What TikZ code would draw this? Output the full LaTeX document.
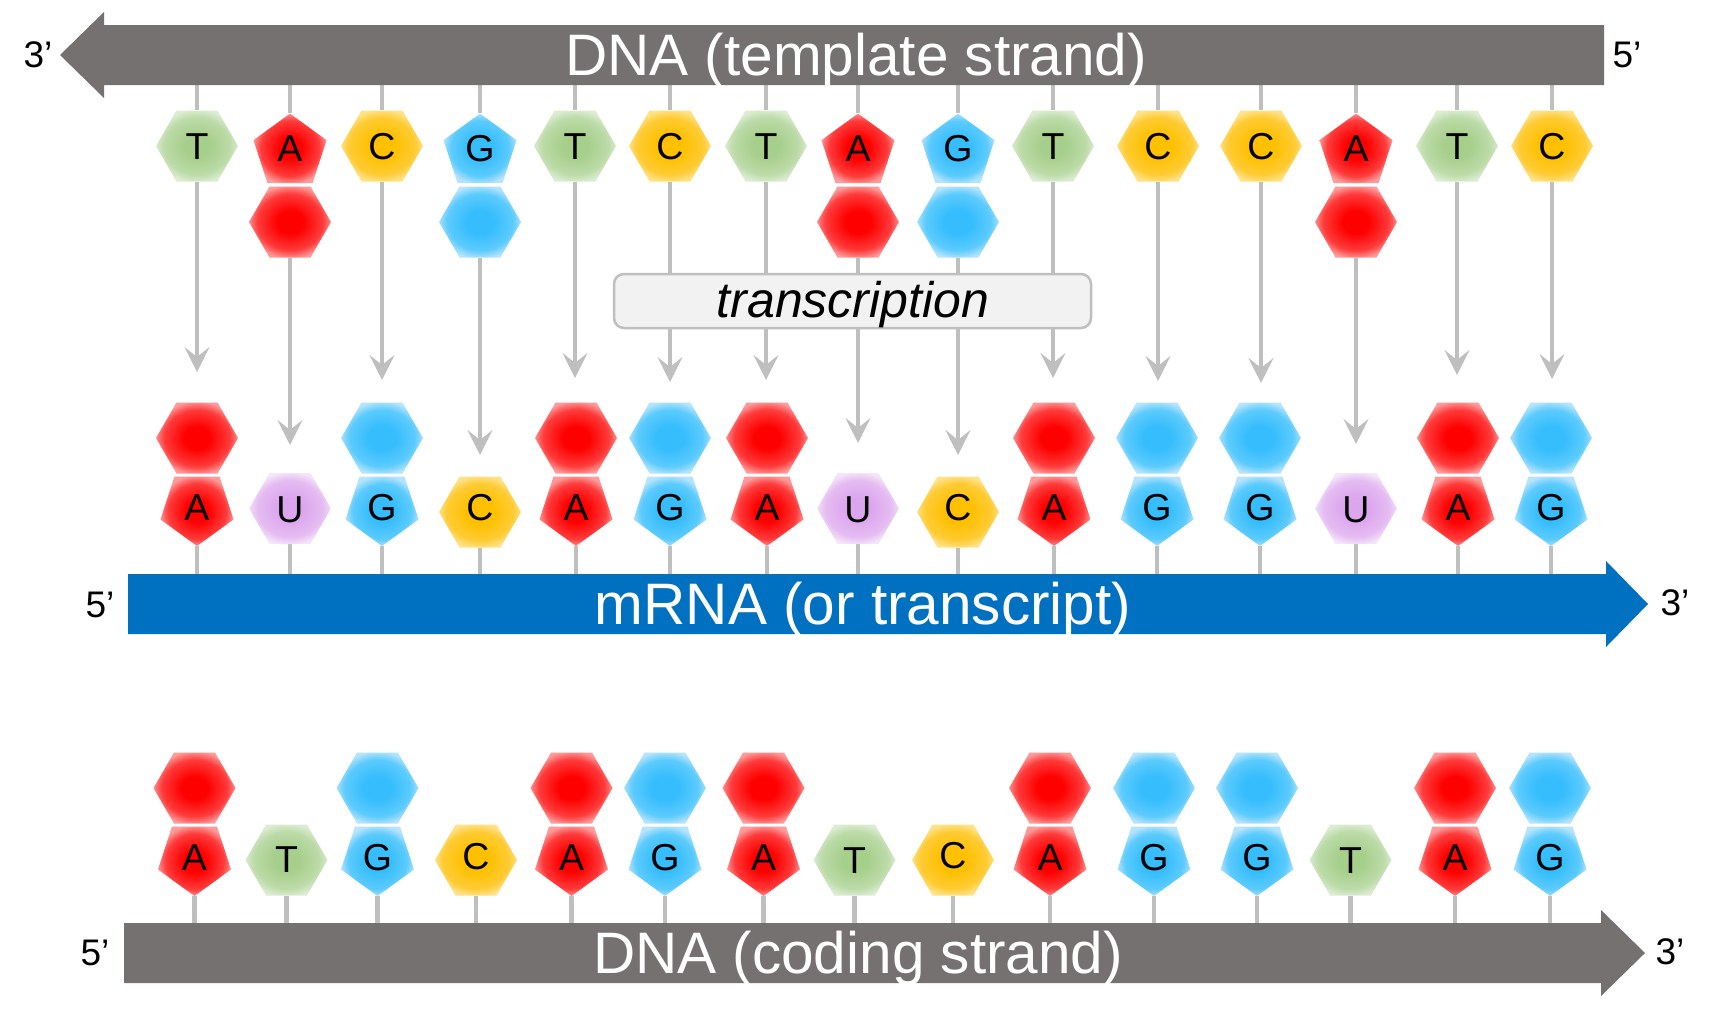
\documentclass[tikz,border=0pt]{standalone}
\usepackage{fontspec}
\setmainfont{Liberation Sans}
\usetikzlibrary{arrows.meta}
\definecolor{dnagray}{HTML}{767171}
\definecolor{rnablue}{HTML}{0070C0}
\definecolor{linkgray}{HTML}{BFBFBF}
\definecolor{boxfill}{HTML}{F2F2F2}
\definecolor{cA}{HTML}{FF0000}\definecolor{mA}{HTML}{FF3B3B}\definecolor{eA}{HTML}{FF9A9A}
\definecolor{cG}{HTML}{35BDFD}\definecolor{mG}{HTML}{5CCBFD}\definecolor{eG}{HTML}{B5E4FC}
\definecolor{cC}{HTML}{FFC000}\definecolor{mC}{HTML}{FFCB33}\definecolor{eC}{HTML}{FFE38C}
\definecolor{cT}{HTML}{A7CF8C}\definecolor{mT}{HTML}{BCDBA8}\definecolor{eT}{HTML}{DDEDD4}
\definecolor{cU}{HTML}{DCA6EE}\definecolor{mU}{HTML}{E5BCF2}\definecolor{eU}{HTML}{F5E6FA}
\pgfdeclareradialshading{shA}{\pgfpoint{0bp}{0bp}}{color(0bp)=(cA); color(8bp)=(cA); color(20bp)=(mA); color(26bp)=(eA); color(50bp)=(eA)}
\pgfdeclareradialshading{shG}{\pgfpoint{0bp}{0bp}}{color(0bp)=(cG); color(8bp)=(cG); color(20bp)=(mG); color(26bp)=(eG); color(50bp)=(eG)}
\pgfdeclareradialshading{shC}{\pgfpoint{0bp}{0bp}}{color(0bp)=(cC); color(8bp)=(cC); color(20bp)=(mC); color(26bp)=(eC); color(50bp)=(eC)}
\pgfdeclareradialshading{shT}{\pgfpoint{0bp}{0bp}}{color(0bp)=(cT); color(8bp)=(cT); color(20bp)=(mT); color(26bp)=(eT); color(50bp)=(eT)}
\pgfdeclareradialshading{shU}{\pgfpoint{0bp}{0bp}}{color(0bp)=(cU); color(8bp)=(cU); color(20bp)=(mU); color(26bp)=(eU); color(50bp)=(eU)}
\pgfdeclarelayer{bg}
\pgfsetlayers{bg,main}
\tikzset{
  basebox/.style={inner sep=0pt, minimum width=82pt, draw=none},
  letter/.style={inner sep=0pt, font=\fontsize{37.5}{40}\selectfont},
  endlabel/.style={inner sep=0pt, font=\fontsize{37}{40}\selectfont},
  bartext/.style={inner sep=0pt, anchor=base, text=white, font=\fontsize{58.5}{60}\selectfont},
  link/.style={draw=linkgray, line width=4.5pt},
  linkarrow/.style={link, -{Stealth[length=25pt,width=25pt,inset=10pt]}},
}
\newcommand\hexpath[3]{\shade[shading=#3] (#1+41,#2) -- (#1+20.5,#2-35.5) -- (#1-20.5,#2-35.5) -- (#1-41,#2) -- (#1-20.5,#2+35.5) -- (#1+20.5,#2+35.5) -- cycle;}
\newcommand\pentup[3]{\shade[shading=#3] (#1,#2-38.4) -- (#1+36.52,#2-11.87) -- (#1+22.57,#2+31.07) -- (#1-22.57,#2+31.07) -- (#1-36.52,#2-11.87) -- cycle;}
\newcommand\pentdown[3]{\shade[shading=#3] (#1,#2+38.4) -- (#1+36.52,#2+11.87) -- (#1+22.57,#2-31.07) -- (#1-22.57,#2-31.07) -- (#1-36.52,#2+11.87) -- cycle;}
% top row: pentagon (point up) over hexagon
\newcommand\TopPair[4]{%
  \pentup{#2}{152}{#3}\hexpath{#2}{222}{#3}%
  \node[basebox, minimum height=143.9pt] (#1) at (#2,185.55) {};%
  \node[letter] (#1-l) at (#2,149) {#4};}
\newcommand\TopSingle[4]{%
  \hexpath{#2}{146}{#3}%
  \node[basebox, minimum height=71pt] (#1) at (#2,146) {};%
  \node[letter] (#1-l) at (#2,146.5) {#4};}
% lower rows: hexagon over pentagon (point down)
\newcommand\LowPair[5]{%
  \hexpath{#2}{#3}{#4}\pentdown{#2}{#3+69.6}{#4}%
  \node[basebox, minimum height=143.5pt] (#1) at (#2,#3+36.25) {};%
  \node[letter] (#1-l) at (#2,#3+69.6) {#5};}
\newcommand\LowSingle[6]{%
  \hexpath{#2}{#3}{#4}%
  \node[basebox, minimum height=71pt] (#1) at (#2,#3) {};%
  \node[letter] (#1-l) at (#2,#6) {#5};}
\begin{document}
\begin{tikzpicture}[x=1pt,y=-1pt]
\useasboundingbox (0,0) rectangle (1712,1020);
\coordinate (tbar) at (0,85);
\coordinate (mbar) at (0,574);
\coordinate (bbar) at (0,923);
% ---- strands ----
\fill[dnagray] (1604,25) -- (104,25) -- (104,12) -- (60,55) -- (104,98) -- (104,85) -- (1604,85) -- cycle;
\fill[rnablue] (128,574) -- (1606,574) -- (1606,561) -- (1648,604) -- (1606,647) -- (1606,634) -- (128,634) -- cycle;
\fill[dnagray] (124,923) -- (1601,923) -- (1601,910) -- (1645,953) -- (1601,996) -- (1601,983) -- (124,983) -- cycle;
\node[bartext] (tmpl) at (856,75.5) {DNA (template strand)};
\node[bartext] (mrna) at (863,624.4) {mRNA (or transcript)};
\node[bartext] (cod) at (858,973.4) {DNA (coding strand)};
\node[endlabel] (l1) at (38,55) {3’};
\node[endlabel] (l2) at (1627,55) {5’};
\node[endlabel] (l3) at (100,605) {5’};
\node[endlabel] (l4) at (1675,603) {3’};
\node[endlabel] (l5) at (95,953) {5’};
\node[endlabel] (l6) at (1670,952) {3’};
% ---- template strand bases ----
\TopSingle{t1}{197}{shT}{T}
\TopPair{t2}{290}{shA}{A}
\TopSingle{t3}{382}{shC}{C}
\TopPair{t4}{480}{shG}{G}
\TopSingle{t5}{575}{shT}{T}
\TopSingle{t6}{670}{shC}{C}
\TopSingle{t7}{766}{shT}{T}
\TopPair{t8}{858}{shA}{A}
\TopPair{t9}{958}{shG}{G}
\TopSingle{t10}{1053}{shT}{T}
\TopSingle{t11}{1158}{shC}{C}
\TopSingle{t12}{1261}{shC}{C}
\TopPair{t13}{1356}{shA}{A}
\TopSingle{t14}{1457}{shT}{T}
\TopSingle{t15}{1552}{shC}{C}
% ---- mRNA bases ----
\LowPair{m1}{197}{438}{shA}{A}
\LowSingle{m2}{290}{508.5}{shU}{U}{510}
\LowPair{m3}{382}{438}{shG}{G}
\LowSingle{m4}{480}{512}{shC}{C}{508}
\LowPair{m5}{576}{438}{shA}{A}
\LowPair{m6}{670}{438}{shG}{G}
\LowPair{m7}{767}{438}{shA}{A}
\LowSingle{m8}{858}{508.5}{shU}{U}{510}
\LowSingle{m9}{958}{512}{shC}{C}{508}
\LowPair{m10}{1054}{438}{shA}{A}
\LowPair{m11}{1157}{438}{shG}{G}
\LowPair{m12}{1260}{438}{shG}{G}
\LowSingle{m13}{1356}{508.5}{shU}{U}{510}
\LowPair{m14}{1458}{438}{shA}{A}
\LowPair{m15}{1551}{438}{shG}{G}
% ---- coding strand bases ----
\LowPair{b1}{194.5}{788}{shA}{A}
\LowSingle{b2}{286.5}{860}{shT}{T}{860}
\LowPair{b3}{377.5}{788}{shG}{G}
\LowSingle{b4}{476}{860}{shC}{C}{857}
\LowPair{b5}{571.5}{788}{shA}{A}
\LowPair{b6}{665}{788}{shG}{G}
\LowPair{b7}{763.5}{788}{shA}{A}
\LowSingle{b8}{854.5}{860}{shT}{T}{861}
\LowSingle{b9}{953}{860}{shC}{C}{856}
\LowPair{b10}{1050}{788}{shA}{A}
\LowPair{b11}{1154}{788}{shG}{G}
\LowPair{b12}{1257}{788}{shG}{G}
\LowSingle{b13}{1350.5}{860}{shT}{T}{861}
\LowPair{b14}{1455}{788}{shA}{A}
\LowPair{b15}{1550}{788}{shG}{G}
% ---- transcription label ----
\node[draw=linkgray, fill=boxfill, line width=2.5pt, rounded corners=10pt, minimum width=477pt, minimum height=54pt, inner sep=0pt] (tbox) at (852.5,301) {};
\node[inner sep=0pt, anchor=base, font=\fontsize{50}{54}\selectfont\itshape] (ttext) at (853,317) {transcription};
% ---- connectors (behind) ----
\begin{pgfonlayer}{bg}
\foreach \i/\xt/\ay in {1/197/372, 2/290/445, 3/382/380, 4/480/455, 5/575/378, 6/670/382, 7/766/380, 8/858/443, 9/958/455, 10/1053/378, 11/1158/381, 12/1261/383, 13/1356/444, 14/1457/375, 15/1552/379}{
  \coordinate (a\i) at (\xt,\ay);
  \draw[link] (t\i.north |- tbar) -- (t\i.north);
  \draw[linkarrow] (t\i.south) -- (a\i);
  \draw[link] (m\i.south) -- (m\i.south |- mbar);
  \draw[link] (b\i.south) -- (b\i.south |- bbar);
}
\end{pgfonlayer}
\end{tikzpicture}
\end{document}
